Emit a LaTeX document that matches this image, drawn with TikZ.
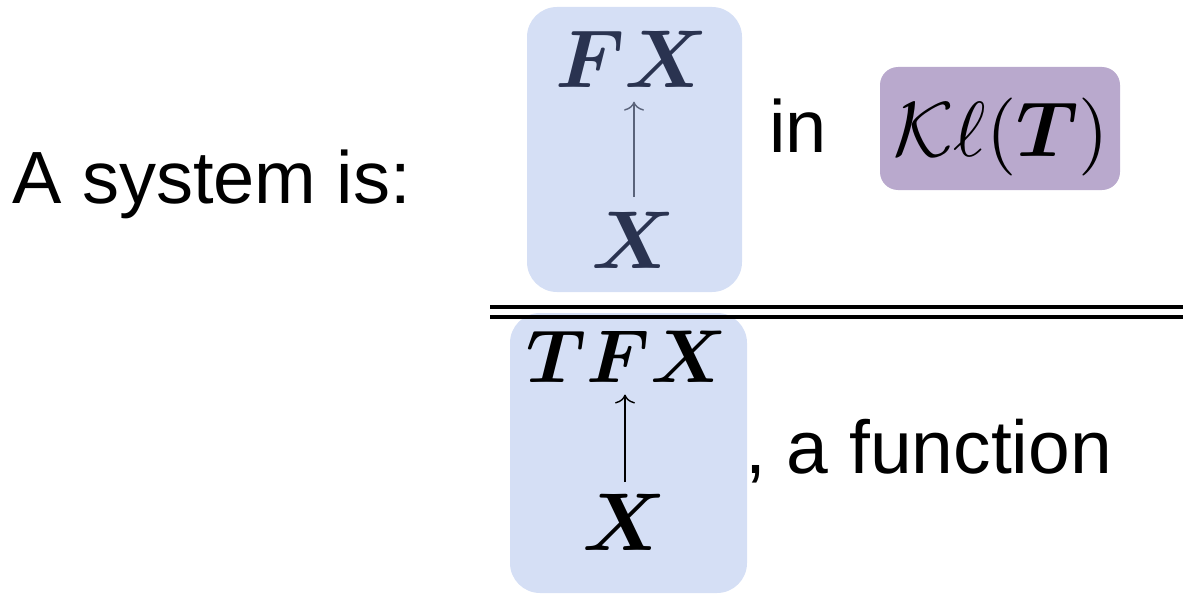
\documentclass[tikz,border=0pt]{standalone}
\usepackage{amsmath,bm}
\usepackage{fontspec}
\setmainfont{Liberation Sans}
\usetikzlibrary{arrows.meta}
\definecolor{boxblue}{RGB}{213,223,245}
\definecolor{boxpurple}{RGB}{185,169,205}
\definecolor{navytext}{RGB}{42,51,80}
\definecolor{navyline}{RGB}{90,99,122}
\tikzset{
  bluebox/.style={fill=boxblue, draw=none, rounded corners=30pt, inner sep=0pt},
  purplebox/.style={fill=boxpurple, draw=none, rounded corners=18pt, inner sep=0pt},
  mathlabel/.style={inner sep=0pt, scale=8.2},
  sanslabel/.style={inner sep=0pt, anchor=base west, font=\fontsize{74}{80}\selectfont},
  maparrow/.style={line width=1.4pt, -{To[length=9pt,width=20pt]}},
}
\begin{document}
\begin{tikzpicture}[x=1pt,y=-1pt]
\useasboundingbox (0,0) rectangle (1183,594);
% boxes
\node[bluebox, minimum width=215pt, minimum height=285pt] (topbox) at (634.5,149.5) {};
\node[bluebox, minimum width=237pt, minimum height=280pt] (botbox) at (628.5,453) {};
\node[purplebox, minimum width=240pt, minimum height=123pt] (klbox) at (1000,128.5) {};
% texts
\node[sanslabel] (sys) at (12,203) {A system is:};
\node[sanslabel] (in) at (769,152) {in};
\node[sanslabel, font=\fontsize{75}{80}\selectfont] (func) at (745,473) {, a function};
% top box contents
\node[mathlabel, anchor=base, text=navytext] (fx1) at (632,87) {$\boldsymbol{FX}$};
\node[mathlabel, anchor=base, text=navytext] (x1) at (634,268) {$\boldsymbol{X}$};
\draw[maparrow, navyline, shorten <=13pt, shorten >=13pt] (x1.north) -- (x1.north |- fx1.south);
% Kleisli
\node[inner sep=0pt, scale=7.8, anchor=base] (kl) at (1001,156) {$\mathcal{K}\ell(\boldsymbol{T})$};
% bottom box contents
\node[inner sep=0pt, scale=7.5, anchor=base] (tfx) at (627,382) {$\boldsymbol{TFX}$};
\node[mathlabel, anchor=base] (x2) at (625,550) {$\boldsymbol{X}$};
\draw[maparrow, black, shorten <=10pt, shorten >=11pt] (x2.north) -- (x2.north |- tfx.south);
% double rule
\coordinate (ruleL) at (490,307);
\coordinate (ruleR) at (1183,307);
\coordinate (ruleL2) at (490,317);
\coordinate (ruleR2) at (1183,317);
\draw[line width=4pt] (ruleL) -- (ruleR);
\draw[line width=4pt] (ruleL2) -- (ruleR2);
\end{tikzpicture}
\end{document}
